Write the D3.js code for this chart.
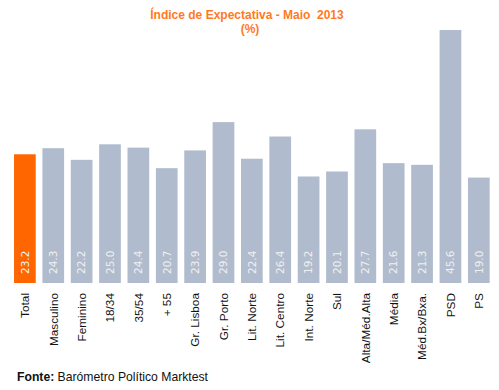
<!DOCTYPE html>
<html><head><meta charset="utf-8">
<script src="https://cdn.jsdelivr.net/npm/d3@7"></script>
<style>body{margin:0;background:#fff}svg{display:block}</style>
</head><body><div id="chart"></div>
<script>
const categories = ["Total","Masculino","Feminino","18/34","35/54","+ 55","Gr. Lisboa","Gr. Porto","Lit. Norte","Lit. Centro","Int. Norte","Sul","Alta/Méd.Alta","Média","Méd.Bx/Bxa.","PSD","PS"];
const values = [23.2,24.3,22.2,25.0,24.4,20.7,23.9,29.0,22.4,26.4,19.2,20.1,27.7,21.6,21.3,45.6,19.0];
const highlight = ["Total"];

const W = 499, H = 390;
const svg = d3.select("#chart").append("svg").attr("width", W).attr("height", H);

const x = d3.scaleBand().domain(categories).range([10.7, 493]).paddingInner(0.235).paddingOuter(0.1175);
const y = d3.scaleLinear().domain([0, 50]).range([283, 5.6]);

svg.append("g").selectAll("rect").data(values).join("rect")
  .attr("x", (d,i) => x(categories[i]))
  .attr("width", x.bandwidth())
  .attr("y", d => y(d))
  .attr("height", d => y(0) - y(d))
  .attr("fill", (d,i) => highlight.includes(categories[i]) ? "#FF6600" : "#B0BCCD");

svg.append("g").selectAll("text").data(values).join("text")
  .attr("transform", (d,i) => `translate(${x(categories[i]) + x.bandwidth()/2},274) rotate(-90)`)
  .attr("dy", "0.36em")
  .attr("text-anchor", "start")
  .attr("font-family", "DejaVu Sans, sans-serif")
  .attr("font-size", "10.5px")
  .attr("fill", "#F0F0F0")
  .text(d => d.toFixed(1));

const xAxis = svg.append("g").attr("transform", "translate(0,283)")
  .call(d3.axisBottom(x).tickSize(0).tickPadding(0));
xAxis.select(".domain").remove();
xAxis.selectAll("text")
  .attr("transform", "translate(0,10) rotate(-90)")
  .attr("x", 0).attr("y", 0).attr("dy", "0.36em")
  .attr("text-anchor", "end")
  .attr("font-family", "Liberation Sans, Arial, sans-serif")
  .attr("font-size", "11.8px")
  .attr("fill", "#111");

svg.append("text").attr("x", 247).attr("y", 19).attr("text-anchor", "middle")
  .style("white-space", "pre")
  .attr("font-family", "Liberation Sans, Arial, sans-serif").attr("font-weight", "bold")
  .attr("font-size", "12px").attr("fill", "#FF7A1E")
  .text("Índice de Expectativa - Maio  2013");
svg.append("text").attr("x", 250).attr("y", 33).attr("text-anchor", "middle")
  .attr("font-family", "Liberation Sans, Arial, sans-serif").attr("font-weight", "bold")
  .attr("font-size", "12px").attr("fill", "#FF7A1E")
  .text("(%)");

const f = svg.append("text").attr("x", 17).attr("y", 381)
  .attr("font-family", "Liberation Sans, Arial, sans-serif").attr("font-size", "12.2px").attr("fill", "#111");
f.append("tspan").attr("font-weight", "bold").text("Fonte:");
f.append("tspan").text(" Barómetro Político Marktest");
</script></body></html>
